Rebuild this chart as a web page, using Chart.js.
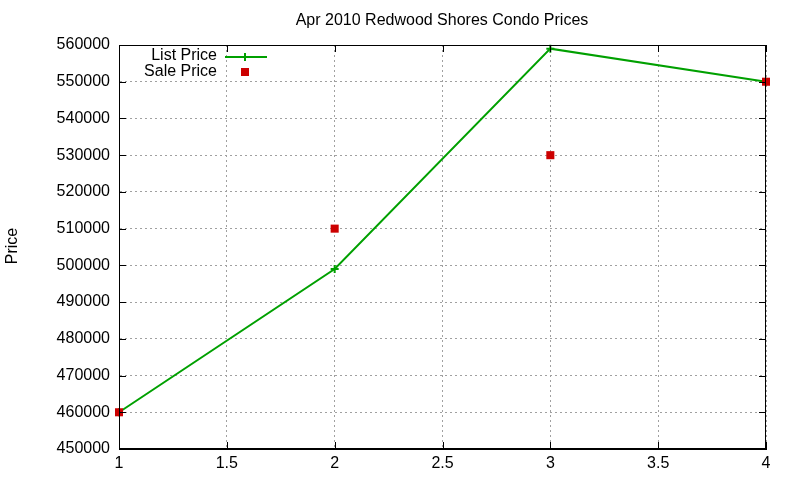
<!DOCTYPE html>
<html>
<head>
<meta charset="utf-8">
<script src="https://cdn.jsdelivr.net/npm/chart.js@4"></script>
<style>
  html, body { margin: 0; padding: 0; background: #fff; }
  #wrap { width: 800px; height: 480px; }
</style>
</head>
<body>
<div id="wrap"><canvas id="priceChart" width="800" height="480"></canvas></div>
<script>
// data
const months = [1, 2, 3, 4];
const listPrice = [460000, 499000, 559000, 550000];
const salePrice = [460000, 510000, 530000, 550000];
const xTicks = [1, 1.5, 2, 2.5, 3, 3.5, 4];
const yTicks = [450000, 460000, 470000, 480000, 490000, 500000, 510000, 520000, 530000, 540000, 550000, 560000];

const FONT = '"Liberation Sans", Arial, sans-serif';
const GREEN = '#00a000';
const RED = '#cc0000';

// gnuplot style frame: border all round, small ticks pointing inward, title, y label, legend
const gnuplotFrame = {
    id: 'gnuplotFrame',
    afterDraw(chart) {
        const ctx = chart.ctx;
        const a = chart.chartArea;
        const xs = chart.scales.x, ys = chart.scales.y;
        ctx.save();
        ctx.strokeStyle = '#000';
        ctx.lineWidth = 1;
        ctx.strokeRect(a.left + 0.5, a.top + 0.5, a.right - a.left - 1, a.bottom - a.top - 1);

        // inward ticks
        ctx.beginPath();
        xTicks.forEach(v => {
            const px = Math.round(xs.getPixelForValue(v)) + 0.5;
            ctx.moveTo(px, a.bottom); ctx.lineTo(px, a.bottom - 7);
            ctx.moveTo(px, a.top); ctx.lineTo(px, a.top + 7);
        });
        yTicks.forEach(v => {
            const py = Math.round(ys.getPixelForValue(v)) + 0.5;
            ctx.moveTo(a.left, py); ctx.lineTo(a.left + 7, py);
            ctx.moveTo(a.right, py); ctx.lineTo(a.right - 7, py);
        });
        ctx.stroke();

        // title
        ctx.fillStyle = '#000';
        ctx.font = '16px ' + FONT;
        ctx.textAlign = 'center';
        ctx.textBaseline = 'middle';
        ctx.fillText('Apr 2010 Redwood Shores Condo Prices', 442, 21);

        // y axis label
        ctx.save();
        ctx.translate(13, 246);
        ctx.rotate(-Math.PI / 2);
        ctx.fillText('Price', 0, 0);
        ctx.restore();

        // legend
        ctx.textAlign = 'right';
        ctx.fillText('List Price', 217, 56);
        ctx.fillText('Sale Price', 217, 72);
        ctx.strokeStyle = GREEN;
        ctx.lineWidth = 2;
        ctx.beginPath();
        ctx.moveTo(225, 57); ctx.lineTo(267, 57);
        ctx.moveTo(245, 53); ctx.lineTo(245, 61);
        ctx.stroke();
        ctx.fillStyle = RED;
        ctx.fillRect(241, 68, 8, 8);
        ctx.restore();
    }
};

const ctx = document.getElementById('priceChart').getContext('2d');
new Chart(ctx, {
    type: 'scatter',
    data: {
        datasets: [
            {
                label: 'Sale Price',
                data: months.map((m, i) => ({ x: m, y: salePrice[i] })),
                showLine: false,
                borderColor: RED,
                backgroundColor: RED,
                pointStyle: 'rect',
                pointRadius: 5.7,
                pointBorderWidth: 0,
                order: 1
            },
            {
                label: 'List Price',
                data: months.map((m, i) => ({ x: m, y: listPrice[i] })),
                showLine: true,
                borderColor: GREEN,
                borderWidth: 2,
                backgroundColor: GREEN,
                pointStyle: 'cross',
                pointRadius: 4,
                pointBorderWidth: 2,
                order: 2
            }
        ]
    },
    options: {
        responsive: false,
        animation: false,
        devicePixelRatio: 1,
        clip: false,
        layout: { padding: { top: 45, right: 34, left: 0, bottom: 0 } },
        plugins: {
            legend: { display: false },
            title: { display: false },
            tooltip: { enabled: false }
        },
        scales: {
            x: {
                type: 'linear',
                min: 1,
                max: 4,
                afterBuildTicks: s => { s.ticks = xTicks.map(v => ({ value: v })); },
                afterFit: s => { s.height = 31; },
                ticks: {
                    color: '#000',
                    font: { family: FONT, size: 16 },
                    padding: 5,
                    maxRotation: 0,
                    callback: v => String(v)
                },
                grid: {
                    color: '#a0a0a0',
                    lineWidth: 1,
                    drawTicks: false
                },
                border: { color: '#000', dash: [2, 3], display: true }
            },
            y: {
                min: 450000,
                max: 560000,
                afterBuildTicks: s => { s.ticks = yTicks.map(v => ({ value: v })); },
                afterFit: s => { s.width = 119; },
                ticks: {
                    color: '#000',
                    font: { family: FONT, size: 16 },
                    padding: 9,
                    callback: v => String(v)
                },
                grid: {
                    color: '#a0a0a0',
                    lineWidth: 1,
                    drawTicks: false
                },
                border: { color: '#000', dash: [2, 3], display: true }
            }
        }
    },
    plugins: [gnuplotFrame]
});
</script>
</body>
</html>
